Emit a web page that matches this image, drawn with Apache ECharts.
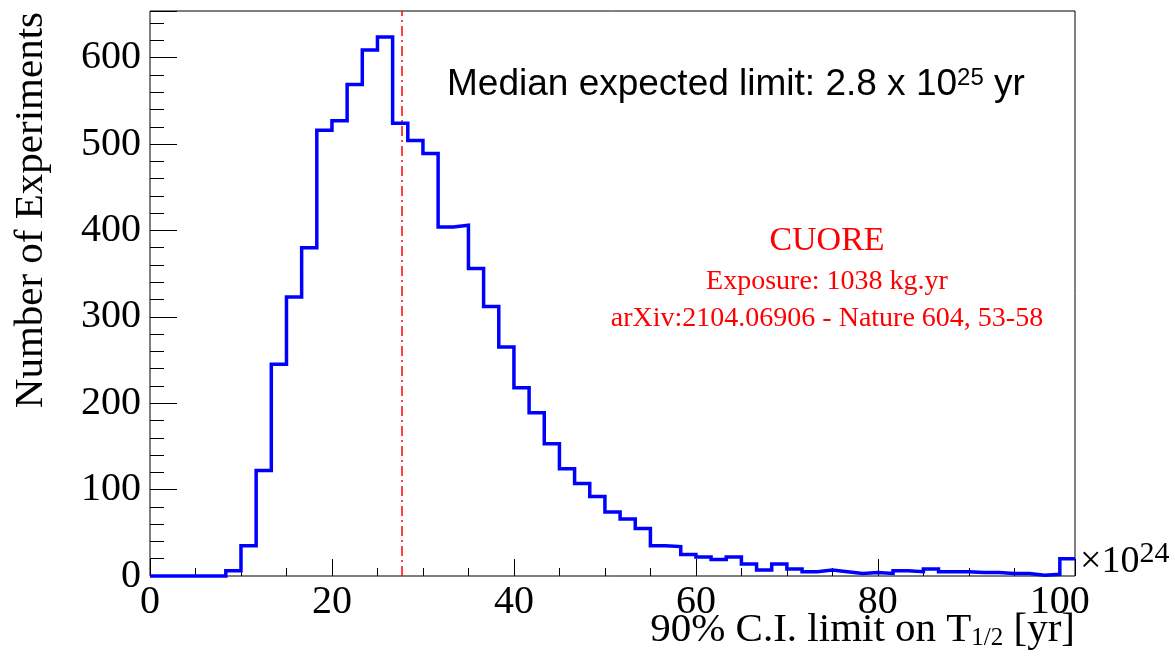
<!DOCTYPE html>
<html><head><meta charset="utf-8">
<script src="https://cdn.jsdelivr.net/npm/echarts@6/dist/echarts.min.js"></script>
<style>html,body{margin:0;padding:0;background:#fff}#c{width:1175px;height:668px}</style>
</head><body><div id="c"></div>
<script>
// histogram: 61 bins of width 5/3 (x in units of 1e24 yr)
const binWidth = 5 / 3;
const counts = [
  0, 0, 0, 0, 0, 6, 35, 122, 245, 323,
  380, 516, 527, 569, 609, 624, 524, 504, 489, 404,
  406, 356, 312, 265, 218, 189, 153, 124, 107, 92,
  74, 66, 55, 35, 34, 25, 22, 19, 22, 14,
  7, 14, 8, 5, 7, 5, 3, 4, 3, 6,
  5, 8, 5, 5, 4, 4, 3, 3, 1, 2,
  20
];
const xMax = counts.length * binWidth;
const yMax = 654;
const medianLimit = 27.7;
const xLabelStep = 20, xMinorStep = 5;
const yLabelStep = 100, yMinorStep = 20;

const histData = counts.map((c, i) => [i * binWidth, c]);
histData.push([xMax, counts[counts.length - 1]]);

const serif = '"Liberation Serif", "DejaVu Serif", serif';
const sans = '"Liberation Sans", Arial, sans-serif';
const isMult = (v, s) => Math.abs(v / s - Math.round(v / s)) < 1e-6;

const chart = echarts.init(document.getElementById('c'), null, {renderer: 'canvas'});
const baseAxis = {type: 'value', axisLine: {show: false}, splitLine: {show: false}};
chart.setOption({
  animation: false,
  backgroundColor: '#fff',
  grid: {left: 150, top: 11, width: 925, height: 565, show: true, borderColor: '#000', borderWidth: 1, containLabel: false, outerBoundsMode: 'none'},
  xAxis: [
    Object.assign({}, baseAxis, {min: 0, max: xMax, interval: xMinorStep, position: 'bottom',
      axisTick: {inside: true, length: 8, lineStyle: {color: '#000', width: 1}}, axisLabel: {show: false}}),
    Object.assign({}, baseAxis, {min: 0, max: xMax, interval: xLabelStep, position: 'bottom',
      axisTick: {inside: true, length: 17, lineStyle: {color: '#000', width: 1}},
      axisLabel: {margin: 6, color: '#000', fontFamily: serif, fontSize: 40,
        formatter: v => isMult(v, xLabelStep) ? String(Math.round(v)) : ''}})
  ],
  yAxis: [
    Object.assign({}, baseAxis, {min: 0, max: yMax, interval: yMinorStep, position: 'left',
      axisTick: {inside: true, length: 14, lineStyle: {color: '#000', width: 1}}, axisLabel: {show: false}}),
    Object.assign({}, baseAxis, {min: 0, max: yMax, interval: yLabelStep, position: 'left',
      axisTick: {inside: true, length: 27, lineStyle: {color: '#000', width: 1}},
      axisLabel: {margin: 9, color: '#000', fontFamily: serif, fontSize: 40,
        formatter: v => isMult(v, yLabelStep) ? String(Math.round(v)) : ''}})
  ],
  series: [
    {type: 'line', xAxisIndex: 0, yAxisIndex: 0, step: 'end', data: histData, showSymbol: false, symbol: 'none',
      clip: false, z: 5, lineStyle: {color: '#0000ff', width: 3.5, cap: 'butt', join: 'miter'}, silent: true},
    {type: 'line', xAxisIndex: 0, yAxisIndex: 0, data: [[medianLimit, 0], [medianLimit, yMax]], showSymbol: false, symbol: 'none',
      z: 4, lineStyle: {color: '#ff0000', width: 1.5, type: [10, 4, 2, 4]}, silent: true}
  ],
  graphic: [
    {type: 'text', x: 447, y: 85, style: {
      text: '{a|Median expected limit: 2.8 x 10}{s|25}{a| yr}', textAlign: 'left', textVerticalAlign: 'middle',
      rich: {a: {font: '37px ' + sans, fill: '#000', verticalAlign: 'bottom'},
             s: {font: '24px ' + sans, fill: '#000', verticalAlign: 'top'}}}},
    {type: 'text', x: 827, y: 241.5, style: {text: 'CUORE', font: '34px ' + serif, fill: '#ff0000', textAlign: 'center', textVerticalAlign: 'middle'}},
    {type: 'text', x: 827, y: 282, style: {text: 'Exposure: 1038 kg.yr', font: '28px ' + serif, fill: '#ff0000', textAlign: 'center', textVerticalAlign: 'middle'}},
    {type: 'text', x: 827, y: 319, style: {text: 'arXiv:2104.06906 - Nature 604, 53-58', font: '28px ' + serif, fill: '#ff0000', textAlign: 'center', textVerticalAlign: 'middle'}},
    {type: 'text', x: 1080, y: 560, style: {
      text: '{a|×10}{s|24}', textAlign: 'left', textVerticalAlign: 'middle',
      rich: {a: {font: '38px ' + serif, fill: '#000', verticalAlign: 'bottom'},
             s: {font: '30px ' + serif, fill: '#000', verticalAlign: 'top', padding: [0, 0, 12, 0]}}}},
    {type: 'text', x: 1075, y: 630, style: {
      text: '{a|90% C.I. limit on T}{b|1/2}{a| [yr]}', textAlign: 'right', textVerticalAlign: 'middle',
      rich: {a: {font: '41px ' + serif, fill: '#000', verticalAlign: 'top'},
             b: {font: '25px ' + serif, fill: '#000', verticalAlign: 'bottom', padding: [14, 0, 0, 0]}}}},
    {type: 'text', x: 31, y: 12, rotation: Math.PI / 2, style: {
      text: 'Number of Experiments', font: '41px ' + serif, fill: '#000', textAlign: 'right', textVerticalAlign: 'middle'}}
  ]
});
</script></body></html>
